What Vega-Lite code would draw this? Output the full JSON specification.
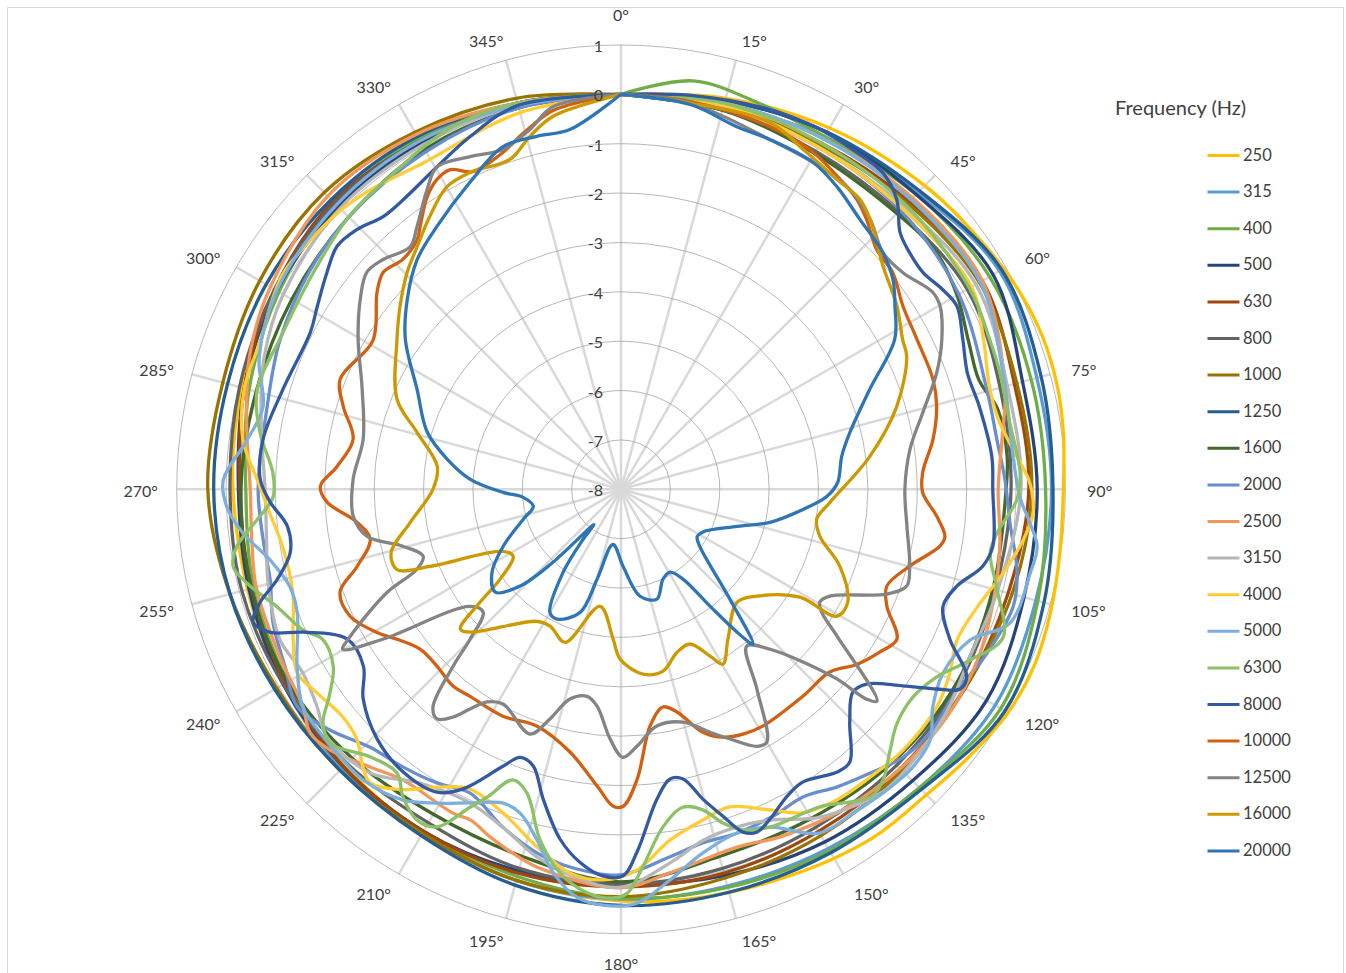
{
"$schema": "https://vega.github.io/schema/vega-lite/v6.json",
"width": 1336, "height": 973, "autosize": "none",
"padding": {"left": 7, "top": 7, "right": 3, "bottom": 0},
"background": "white",
"config": {"view": {"stroke": "#D9D9D9", "strokeWidth": 1}, "font": "Lato"},
"datasets": {
"rings": [{"ring":-8},{"ring":-7},{"ring":-6},{"ring":-5},{"ring":-4},{"ring":-3},{"ring":-2},{"ring":-1},{"ring":0},{"ring":1}],
"spokes": [{"deg":0,"lab":"0°"},{"deg":15,"lab":"15°"},{"deg":30,"lab":"30°"},{"deg":45,"lab":"45°"},{"deg":60,"lab":"60°"},{"deg":75,"lab":"75°"},{"deg":90,"lab":"90°"},{"deg":105,"lab":"105°"},{"deg":120,"lab":"120°"},{"deg":135,"lab":"135°"},{"deg":150,"lab":"150°"},{"deg":165,"lab":"165°"},{"deg":180,"lab":"180°"},{"deg":195,"lab":"195°"},{"deg":210,"lab":"210°"},{"deg":225,"lab":"225°"},{"deg":240,"lab":"240°"},{"deg":255,"lab":"255°"},{"deg":270,"lab":"270°"},{"deg":285,"lab":"285°"},{"deg":300,"lab":"300°"},{"deg":315,"lab":"315°"},{"deg":330,"lab":"330°"},{"deg":345,"lab":"345°"}],
"spokeLines": [{"deg":0,"r":0},{"deg":0,"r":9},{"deg":15,"r":0},{"deg":15,"r":9},{"deg":30,"r":0},{"deg":30,"r":9},{"deg":45,"r":0},{"deg":45,"r":9},{"deg":60,"r":0},{"deg":60,"r":9},{"deg":75,"r":0},{"deg":75,"r":9},{"deg":90,"r":0},{"deg":90,"r":9},{"deg":105,"r":0},{"deg":105,"r":9},{"deg":120,"r":0},{"deg":120,"r":9},{"deg":135,"r":0},{"deg":135,"r":9},{"deg":150,"r":0},{"deg":150,"r":9},{"deg":165,"r":0},{"deg":165,"r":9},{"deg":180,"r":0},{"deg":180,"r":9},{"deg":195,"r":0},{"deg":195,"r":9},{"deg":210,"r":0},{"deg":210,"r":9},{"deg":225,"r":0},{"deg":225,"r":9},{"deg":240,"r":0},{"deg":240,"r":9},{"deg":255,"r":0},{"deg":255,"r":9},{"deg":270,"r":0},{"deg":270,"r":9},{"deg":285,"r":0},{"deg":285,"r":9},{"deg":300,"r":0},{"deg":300,"r":9},{"deg":315,"r":0},{"deg":315,"r":9},{"deg":330,"r":0},{"deg":330,"r":9},{"deg":345,"r":0},{"deg":345,"r":9}],
"series": [
{"f":"250","a":0,"v":0},{"f":"250","a":15,"v":0.2},{"f":"250","a":30,"v":0.45},{"f":"250","a":45,"v":0.7},{"f":"250","a":55,"v":0.85},{"f":"250","a":63,"v":1.0},{"f":"250","a":70,"v":1.08},{"f":"250","a":77,"v":1.08},{"f":"250","a":83,"v":1.03},{"f":"250","a":90,"v":0.96},{"f":"250","a":98,"v":0.98},{"f":"250","a":106,"v":1.05},{"f":"250","a":113,"v":1.1},{"f":"250","a":120,"v":1.05},{"f":"250","a":128,"v":0.88},{"f":"250","a":135,"v":0.75},{"f":"250","a":145,"v":0.7},{"f":"250","a":160,"v":0.5},{"f":"250","a":175,"v":0.38},{"f":"250","a":190,"v":0.25},{"f":"250","a":205,"v":0.1},{"f":"250","a":220,"v":-0.05},{"f":"250","a":235,"v":-0.12},{"f":"250","a":250,"v":-0.15},{"f":"250","a":270,"v":-0.14},{"f":"250","a":285,"v":-0.05},{"f":"250","a":300,"v":0.05},{"f":"250","a":315,"v":0.1},{"f":"250","a":330,"v":0.1},{"f":"250","a":345,"v":0.05},{"f":"250","a":360,"v":0},
{"f":"315","a":0,"v":0},{"f":"315","a":15,"v":0.05},{"f":"315","a":30,"v":0.25},{"f":"315","a":45,"v":0.5},{"f":"315","a":60,"v":0.85},{"f":"315","a":75,"v":0.72},{"f":"315","a":90,"v":0.72},{"f":"315","a":105,"v":0.7},{"f":"315","a":120,"v":0.75},{"f":"315","a":135,"v":0.55},{"f":"315","a":150,"v":0.4},{"f":"315","a":165,"v":0.32},{"f":"315","a":180,"v":0.3},{"f":"315","a":195,"v":0.2},{"f":"315","a":210,"v":0.05},{"f":"315","a":225,"v":0},{"f":"315","a":240,"v":-0.1},{"f":"315","a":255,"v":-0.2},{"f":"315","a":270,"v":-0.3},{"f":"315","a":285,"v":-0.1},{"f":"315","a":300,"v":0.05},{"f":"315","a":315,"v":0.15},{"f":"315","a":330,"v":0.15},{"f":"315","a":345,"v":0.05},{"f":"315","a":360,"v":0},
{"f":"400","a":0,"v":0},{"f":"400","a":10,"v":0.4},{"f":"400","a":20,"v":0.3},{"f":"400","a":30,"v":0.25},{"f":"400","a":45,"v":0.45},{"f":"400","a":60,"v":0.62},{"f":"400","a":75,"v":0.6},{"f":"400","a":90,"v":0.6},{"f":"400","a":105,"v":0.74},{"f":"400","a":120,"v":0.88},{"f":"400","a":135,"v":0.55},{"f":"400","a":150,"v":0.45},{"f":"400","a":165,"v":0.35},{"f":"400","a":180,"v":0.28},{"f":"400","a":195,"v":0.12},{"f":"400","a":210,"v":0},{"f":"400","a":225,"v":-0.05},{"f":"400","a":240,"v":-0.2},{"f":"400","a":255,"v":-0.3},{"f":"400","a":270,"v":-0.4},{"f":"400","a":285,"v":-0.2},{"f":"400","a":300,"v":0},{"f":"400","a":315,"v":0.2},{"f":"400","a":330,"v":0.2},{"f":"400","a":345,"v":0.1},{"f":"400","a":360,"v":0},
{"f":"500","a":0,"v":0},{"f":"500","a":15,"v":0.15},{"f":"500","a":30,"v":0.35},{"f":"500","a":45,"v":0.45},{"f":"500","a":60,"v":0.7},{"f":"500","a":75,"v":0.42},{"f":"500","a":90,"v":0.43},{"f":"500","a":105,"v":0.45},{"f":"500","a":120,"v":0.55},{"f":"500","a":135,"v":0.35},{"f":"500","a":150,"v":0.25},{"f":"500","a":165,"v":0.1},{"f":"500","a":180,"v":0},{"f":"500","a":195,"v":0},{"f":"500","a":210,"v":0},{"f":"500","a":225,"v":-0.05},{"f":"500","a":240,"v":-0.1},{"f":"500","a":255,"v":-0.2},{"f":"500","a":270,"v":-0.25},{"f":"500","a":285,"v":-0.1},{"f":"500","a":300,"v":0.05},{"f":"500","a":315,"v":0.1},{"f":"500","a":330,"v":0.1},{"f":"500","a":345,"v":0.1},{"f":"500","a":360,"v":0},
{"f":"630","a":0,"v":0},{"f":"630","a":15,"v":0},{"f":"630","a":30,"v":0.1},{"f":"630","a":45,"v":0.25},{"f":"630","a":60,"v":0.45},{"f":"630","a":75,"v":0.25},{"f":"630","a":90,"v":0.26},{"f":"630","a":105,"v":0.12},{"f":"630","a":120,"v":0.05},{"f":"630","a":135,"v":0},{"f":"630","a":150,"v":0},{"f":"630","a":165,"v":0.05},{"f":"630","a":180,"v":0.05},{"f":"630","a":195,"v":0.05},{"f":"630","a":210,"v":0},{"f":"630","a":225,"v":-0.05},{"f":"630","a":240,"v":-0.15},{"f":"630","a":255,"v":-0.25},{"f":"630","a":270,"v":-0.28},{"f":"630","a":285,"v":-0.1},{"f":"630","a":300,"v":0.1},{"f":"630","a":315,"v":0.25},{"f":"630","a":330,"v":0.15},{"f":"630","a":345,"v":0.1},{"f":"630","a":360,"v":0},
{"f":"800","a":0,"v":0},{"f":"800","a":15,"v":-0.05},{"f":"800","a":30,"v":-0.1},{"f":"800","a":45,"v":-0.05},{"f":"800","a":60,"v":0.1},{"f":"800","a":75,"v":-0.05},{"f":"800","a":90,"v":-0.1},{"f":"800","a":105,"v":-0.15},{"f":"800","a":120,"v":-0.1},{"f":"800","a":135,"v":-0.1},{"f":"800","a":150,"v":-0.1},{"f":"800","a":165,"v":-0.05},{"f":"800","a":180,"v":0},{"f":"800","a":195,"v":-0.05},{"f":"800","a":210,"v":-0.2},{"f":"800","a":225,"v":-0.15},{"f":"800","a":240,"v":-0.1},{"f":"800","a":255,"v":-0.05},{"f":"800","a":270,"v":-0.08},{"f":"800","a":285,"v":0},{"f":"800","a":300,"v":0.1},{"f":"800","a":315,"v":0.2},{"f":"800","a":330,"v":0.15},{"f":"800","a":345,"v":0.05},{"f":"800","a":360,"v":0},
{"f":"1000","a":0,"v":0},{"f":"1000","a":15,"v":0},{"f":"1000","a":30,"v":0.05},{"f":"1000","a":45,"v":0.2},{"f":"1000","a":60,"v":0.38},{"f":"1000","a":75,"v":0.3},{"f":"1000","a":90,"v":0.32},{"f":"1000","a":105,"v":0.2},{"f":"1000","a":120,"v":0.05},{"f":"1000","a":135,"v":0.05},{"f":"1000","a":150,"v":0.1},{"f":"1000","a":165,"v":0.15},{"f":"1000","a":180,"v":0.25},{"f":"1000","a":195,"v":0.2},{"f":"1000","a":210,"v":0.05},{"f":"1000","a":225,"v":0.05},{"f":"1000","a":240,"v":0.05},{"f":"1000","a":255,"v":0.2},{"f":"1000","a":270,"v":0.37},{"f":"1000","a":285,"v":0.35},{"f":"1000","a":300,"v":0.45},{"f":"1000","a":315,"v":0.5},{"f":"1000","a":330,"v":0.35},{"f":"1000","a":345,"v":0.2},{"f":"1000","a":360,"v":0},
{"f":"1250","a":0,"v":0},{"f":"1250","a":15,"v":0.15},{"f":"1250","a":30,"v":0.35},{"f":"1250","a":45,"v":0.55},{"f":"1250","a":60,"v":0.9},{"f":"1250","a":75,"v":0.81},{"f":"1250","a":90,"v":0.75},{"f":"1250","a":105,"v":0.87},{"f":"1250","a":120,"v":0.98},{"f":"1250","a":135,"v":0.6},{"f":"1250","a":150,"v":0.5},{"f":"1250","a":165,"v":0.45},{"f":"1250","a":180,"v":0.43},{"f":"1250","a":195,"v":0.3},{"f":"1250","a":210,"v":0.1},{"f":"1250","a":225,"v":0.05},{"f":"1250","a":240,"v":0.1},{"f":"1250","a":255,"v":0.2},{"f":"1250","a":270,"v":0.25},{"f":"1250","a":285,"v":0.25},{"f":"1250","a":300,"v":0.3},{"f":"1250","a":315,"v":0.3},{"f":"1250","a":330,"v":0.25},{"f":"1250","a":345,"v":0.1},{"f":"1250","a":360,"v":0},
{"f":"1600","a":0,"v":0},{"f":"1600","a":15,"v":-0.05},{"f":"1600","a":30,"v":-0.15},{"f":"1600","a":45,"v":-0.1},{"f":"1600","a":53,"v":-0.01},{"f":"1600","a":60,"v":-0.14},{"f":"1600","a":67,"v":-0.35},{"f":"1600","a":73,"v":-0.42},{"f":"1600","a":78,"v":-0.2},{"f":"1600","a":85,"v":-0.15},{"f":"1600","a":90,"v":-0.2},{"f":"1600","a":105,"v":-0.2},{"f":"1600","a":120,"v":-0.15},{"f":"1600","a":135,"v":-0.2},{"f":"1600","a":150,"v":-0.3},{"f":"1600","a":165,"v":-0.3},{"f":"1600","a":180,"v":-0.05},{"f":"1600","a":195,"v":-0.3},{"f":"1600","a":210,"v":-0.4},{"f":"1600","a":225,"v":-0.3},{"f":"1600","a":240,"v":-0.2},{"f":"1600","a":255,"v":-0.25},{"f":"1600","a":270,"v":-0.3},{"f":"1600","a":285,"v":-0.35},{"f":"1600","a":300,"v":-0.3},{"f":"1600","a":315,"v":-0.2},{"f":"1600","a":330,"v":-0.05},{"f":"1600","a":345,"v":0},{"f":"1600","a":360,"v":0},
{"f":"2000","a":0,"v":0},{"f":"2000","a":15,"v":0},{"f":"2000","a":30,"v":0},{"f":"2000","a":45,"v":0},{"f":"2000","a":60,"v":-0.1},{"f":"2000","a":74.8,"v":-0.32},{"f":"2000","a":82.5,"v":-0.32},{"f":"2000","a":88.6,"v":-0.22},{"f":"2000","a":95,"v":-0.09},{"f":"2000","a":101.9,"v":0.2},{"f":"2000","a":106.7,"v":0.29},{"f":"2000","a":115,"v":0.1},{"f":"2000","a":120.8,"v":-0.07},{"f":"2000","a":128.3,"v":-0.03},{"f":"2000","a":133.5,"v":-0.12},{"f":"2000","a":138.7,"v":-0.35},{"f":"2000","a":144,"v":-0.55},{"f":"2000","a":149.4,"v":-0.76},{"f":"2000","a":155,"v":-0.7},{"f":"2000","a":161.3,"v":-0.65},{"f":"2000","a":167,"v":-0.65},{"f":"2000","a":172.4,"v":-0.49},{"f":"2000","a":180.1,"v":-0.19},{"f":"2000","a":187.7,"v":-0.28},{"f":"2000","a":193,"v":-0.44},{"f":"2000","a":199.3,"v":-0.75},{"f":"2000","a":206.4,"v":-1.13},{"f":"2000","a":212.1,"v":-0.98},{"f":"2000","a":218.1,"v":-0.85},{"f":"2000","a":224.2,"v":-0.71},{"f":"2000","a":230.4,"v":-0.35},{"f":"2000","a":236.1,"v":-0.1},{"f":"2000","a":242,"v":-0.3},{"f":"2000","a":249,"v":-0.45},{"f":"2000","a":255.5,"v":-0.66},{"f":"2000","a":261.9,"v":-0.68},{"f":"2000","a":270,"v":-0.65},{"f":"2000","a":283.1,"v":-0.64},{"f":"2000","a":293.6,"v":-0.46},{"f":"2000","a":305,"v":-0.3},{"f":"2000","a":315,"v":-0.2},{"f":"2000","a":330,"v":-0.1},{"f":"2000","a":345,"v":0},{"f":"2000","a":360,"v":0},
{"f":"2500","a":0,"v":0},{"f":"2500","a":15,"v":0.1},{"f":"2500","a":30,"v":0.2},{"f":"2500","a":45,"v":0.35},{"f":"2500","a":60,"v":0.45},{"f":"2500","a":75,"v":0.05},{"f":"2500","a":82,"v":-0.2},{"f":"2500","a":90,"v":-0.36},{"f":"2500","a":98,"v":-0.25},{"f":"2500","a":105,"v":-0.15},{"f":"2500","a":115,"v":0},{"f":"2500","a":125,"v":0.05},{"f":"2500","a":135,"v":0},{"f":"2500","a":145,"v":-0.1},{"f":"2500","a":155,"v":-0.25},{"f":"2500","a":162,"v":-0.38},{"f":"2500","a":172.7,"v":-0.17},{"f":"2500","a":180,"v":0.07},{"f":"2500","a":192.5,"v":-0.16},{"f":"2500","a":200,"v":-0.45},{"f":"2500","a":204.5,"v":-0.64},{"f":"2500","a":207.4,"v":-0.61},{"f":"2500","a":216.9,"v":-0.64},{"f":"2500","a":222.1,"v":-0.42},{"f":"2500","a":228.1,"v":-0.09},{"f":"2500","a":231.9,"v":0},{"f":"2500","a":235.7,"v":-0.2},{"f":"2500","a":243.8,"v":-0.3},{"f":"2500","a":255,"v":-0.35},{"f":"2500","a":262,"v":-0.45},{"f":"2500","a":270,"v":-0.49},{"f":"2500","a":280,"v":-0.3},{"f":"2500","a":290,"v":0},{"f":"2500","a":300,"v":0.2},{"f":"2500","a":315,"v":0.4},{"f":"2500","a":330,"v":0.3},{"f":"2500","a":345,"v":0.1},{"f":"2500","a":360,"v":0},
{"f":"3150","a":0,"v":0},{"f":"3150","a":15,"v":0},{"f":"3150","a":30,"v":0},{"f":"3150","a":45,"v":0.1},{"f":"3150","a":60,"v":0.3},{"f":"3150","a":75,"v":0.1},{"f":"3150","a":90,"v":0.1},{"f":"3150","a":105,"v":-0.1},{"f":"3150","a":115.7,"v":-0.16},{"f":"3150","a":125,"v":0},{"f":"3150","a":135.2,"v":0.1},{"f":"3150","a":139.2,"v":0.1},{"f":"3150","a":148.7,"v":-0.23},{"f":"3150","a":155.7,"v":-0.65},{"f":"3150","a":161,"v":-0.77},{"f":"3150","a":166.8,"v":-0.7},{"f":"3150","a":172,"v":-0.4},{"f":"3150","a":180,"v":0.06},{"f":"3150","a":187,"v":-0.1},{"f":"3150","a":192.9,"v":-0.36},{"f":"3150","a":199.3,"v":-0.75},{"f":"3150","a":206,"v":-0.95},{"f":"3150","a":214.4,"v":-0.79},{"f":"3150","a":221.5,"v":-0.33},{"f":"3150","a":229.9,"v":-0.21},{"f":"3150","a":234.4,"v":-0.43},{"f":"3150","a":240,"v":-0.56},{"f":"3150","a":246.2,"v":-0.45},{"f":"3150","a":255,"v":-0.6},{"f":"3150","a":262,"v":-0.75},{"f":"3150","a":270,"v":-0.79},{"f":"3150","a":280,"v":-0.6},{"f":"3150","a":290,"v":-0.3},{"f":"3150","a":300,"v":-0.1},{"f":"3150","a":315,"v":0.05},{"f":"3150","a":330,"v":0.05},{"f":"3150","a":345,"v":0.05},{"f":"3150","a":360,"v":0},
{"f":"4000","a":0,"v":0},{"f":"4000","a":15,"v":0.05},{"f":"4000","a":30,"v":0},{"f":"4000","a":45,"v":0.05},{"f":"4000","a":60,"v":0.2},{"f":"4000","a":67.4,"v":-0.05},{"f":"4000","a":74.9,"v":-0.26},{"f":"4000","a":80.1,"v":-0.21},{"f":"4000","a":85.3,"v":0.05},{"f":"4000","a":89.1,"v":0.28},{"f":"4000","a":93.3,"v":0.36},{"f":"4000","a":97.2,"v":0.21},{"f":"4000","a":102.4,"v":-0.08},{"f":"4000","a":108.3,"v":-0.4},{"f":"4000","a":114.2,"v":-0.54},{"f":"4000","a":119.2,"v":-0.37},{"f":"4000","a":124.6,"v":-0.23},{"f":"4000","a":132.8,"v":-0.22},{"f":"4000","a":139.1,"v":-0.29},{"f":"4000","a":145.2,"v":-0.34},{"f":"4000","a":150.6,"v":-0.48},{"f":"4000","a":155.1,"v":-0.84},{"f":"4000","a":161.1,"v":-1.2},{"f":"4000","a":166.1,"v":-1.1},{"f":"4000","a":172,"v":-0.83},{"f":"4000","a":177.6,"v":-0.28},{"f":"4000","a":182.6,"v":-0.08},{"f":"4000","a":187.6,"v":-0.16},{"f":"4000","a":193.2,"v":-0.56},{"f":"4000","a":200,"v":-1.02},{"f":"4000","a":206.9,"v":-1.2},{"f":"4000","a":211.7,"v":-0.91},{"f":"4000","a":216,"v":-0.48},{"f":"4000","a":220.5,"v":-0.18},{"f":"4000","a":222.9,"v":-0.32},{"f":"4000","a":226.5,"v":-0.63},{"f":"4000","a":230.7,"v":-0.72},{"f":"4000","a":236.2,"v":-0.59},{"f":"4000","a":240.4,"v":-0.46},{"f":"4000","a":245.3,"v":-0.69},{"f":"4000","a":252.5,"v":-1.03},{"f":"4000","a":260.3,"v":-1.05},{"f":"4000","a":266.1,"v":-0.87},{"f":"4000","a":271.5,"v":-0.63},{"f":"4000","a":277.4,"v":-0.28},{"f":"4000","a":285,"v":-0.1},{"f":"4000","a":292.9,"v":-0.1},{"f":"4000","a":297.4,"v":0.01},{"f":"4000","a":302.4,"v":0.12},{"f":"4000","a":307.3,"v":0.08},{"f":"4000","a":314.2,"v":0.02},{"f":"4000","a":320,"v":-0.09},{"f":"4000","a":328.7,"v":-0.27},{"f":"4000","a":345,"v":-0.1},{"f":"4000","a":360,"v":0},
{"f":"5000","a":0,"v":0},{"f":"5000","a":15,"v":0.1},{"f":"5000","a":30,"v":0.2},{"f":"5000","a":45,"v":0.3},{"f":"5000","a":60,"v":0.4},{"f":"5000","a":73,"v":0.09},{"f":"5000","a":85.3,"v":-0.03},{"f":"5000","a":91.1,"v":0.08},{"f":"5000","a":94.7,"v":0.31},{"f":"5000","a":97.9,"v":0.51},{"f":"5000","a":101.6,"v":0.46},{"f":"5000","a":109,"v":0.33},{"f":"5000","a":113.4,"v":-0.3},{"f":"5000","a":119.7,"v":-0.49},{"f":"5000","a":124.9,"v":-0.3},{"f":"5000","a":129,"v":0.06},{"f":"5000","a":133.6,"v":0.16},{"f":"5000","a":138.5,"v":0.13},{"f":"5000","a":144.4,"v":0.07},{"f":"5000","a":150,"v":0.04},{"f":"5000","a":156.2,"v":-0.52},{"f":"5000","a":161.3,"v":-0.65},{"f":"5000","a":167.3,"v":-0.45},{"f":"5000","a":172.9,"v":-0.02},{"f":"5000","a":177.8,"v":0.39},{"f":"5000","a":182.5,"v":0.43},{"f":"5000","a":186.2,"v":0.31},{"f":"5000","a":190,"v":-0.11},{"f":"5000","a":193.5,"v":-0.7},{"f":"5000","a":197.3,"v":-1.13},{"f":"5000","a":200.6,"v":-1.21},{"f":"5000","a":205.7,"v":-0.95},{"f":"5000","a":210.4,"v":-0.63},{"f":"5000","a":215.1,"v":-0.31},{"f":"5000","a":221.6,"v":-0.13},{"f":"5000","a":225.8,"v":-0.14},{"f":"5000","a":231,"v":-0.16},{"f":"5000","a":235.6,"v":-0.19},{"f":"5000","a":241.3,"v":-0.52},{"f":"5000","a":249.1,"v":-0.98},{"f":"5000","a":253.6,"v":-1.01},{"f":"5000","a":258.6,"v":-0.75},{"f":"5000","a":263.4,"v":-0.29},{"f":"5000","a":267.4,"v":-0.01},{"f":"5000","a":271.3,"v":0.06},{"f":"5000","a":277.5,"v":-0.36},{"f":"5000","a":282.9,"v":-0.56},{"f":"5000","a":290,"v":-0.2},{"f":"5000","a":300,"v":0.05},{"f":"5000","a":315,"v":0.15},{"f":"5000","a":330,"v":0.15},{"f":"5000","a":345,"v":0.05},{"f":"5000","a":360,"v":0},
{"f":"6300","a":0,"v":0},{"f":"6300","a":15,"v":0.1},{"f":"6300","a":30,"v":0.1},{"f":"6300","a":45,"v":0.15},{"f":"6300","a":60,"v":0.15},{"f":"6300","a":68,"v":0.06},{"f":"6300","a":72.9,"v":0.03},{"f":"6300","a":80.3,"v":-0.01},{"f":"6300","a":87.7,"v":0.09},{"f":"6300","a":91.5,"v":0.02},{"f":"6300","a":96.6,"v":-0.33},{"f":"6300","a":99.8,"v":-0.41},{"f":"6300","a":105,"v":-0.11},{"f":"6300","a":111.2,"v":0.3},{"f":"6300","a":116.1,"v":-0.13},{"f":"6300","a":120.7,"v":-0.56},{"f":"6300","a":125.4,"v":-0.74},{"f":"6300","a":130.3,"v":-0.67},{"f":"6300","a":134.1,"v":-0.41},{"f":"6300","a":138,"v":-0.07},{"f":"6300","a":141,"v":0.02},{"f":"6300","a":147.9,"v":-0.41},{"f":"6300","a":156.2,"v":-0.52},{"f":"6300","a":160.3,"v":-0.67},{"f":"6300","a":163,"v":-0.93},{"f":"6300","a":165.7,"v":-1.3},{"f":"6300","a":169,"v":-1.44},{"f":"6300","a":172.9,"v":-1.11},{"f":"6300","a":176.7,"v":-0.34},{"f":"6300","a":179.1,"v":0.18},{"f":"6300","a":181.1,"v":0.28},{"f":"6300","a":184.8,"v":0.2},{"f":"6300","a":189,"v":-0.13},{"f":"6300","a":193,"v":-0.71},{"f":"6300","a":197.2,"v":-1.56},{"f":"6300","a":200.4,"v":-1.72},{"f":"6300","a":203.5,"v":-1.2},{"f":"6300","a":205.4,"v":-0.87},{"f":"6300","a":208.6,"v":-0.21},{"f":"6300","a":211.7,"v":-0.13},{"f":"6300","a":215.3,"v":-0.36},{"f":"6300","a":218.3,"v":-0.68},{"f":"6300","a":223.2,"v":-0.57},{"f":"6300","a":228.9,"v":-0.18},{"f":"6300","a":231.9,"v":-0.33},{"f":"6300","a":234.7,"v":-0.76},{"f":"6300","a":238.3,"v":-1.15},{"f":"6300","a":243.2,"v":-1.24},{"f":"6300","a":246.1,"v":-0.96},{"f":"6300","a":251.1,"v":-0.64},{"f":"6300","a":255.9,"v":-0.19},{"f":"6300","a":258.7,"v":0.01},{"f":"6300","a":261.5,"v":-0.13},{"f":"6300","a":265.2,"v":-0.6},{"f":"6300","a":268.7,"v":-0.95},{"f":"6300","a":272.7,"v":-0.94},{"f":"6300","a":278.9,"v":-0.6},{"f":"6300","a":285.3,"v":-0.36},{"f":"6300","a":294,"v":-0.45},{"f":"6300","a":305,"v":-0.38},{"f":"6300","a":315,"v":-0.2},{"f":"6300","a":325,"v":-0.1},{"f":"6300","a":335,"v":0.1},{"f":"6300","a":345,"v":0.1},{"f":"6300","a":360,"v":0},
{"f":"8000","a":0,"v":0},{"f":"8000","a":10,"v":0.1},{"f":"8000","a":21.4,"v":0.26},{"f":"8000","a":28.9,"v":0.33},{"f":"8000","a":34.3,"v":0.33},{"f":"8000","a":39.6,"v":0.32},{"f":"8000","a":43.6,"v":0.1},{"f":"8000","a":47.4,"v":-0.32},{"f":"8000","a":50.6,"v":-0.44},{"f":"8000","a":54.3,"v":-0.47},{"f":"8000","a":58.2,"v":-0.33},{"f":"8000","a":61.4,"v":-0.25},{"f":"8000","a":66.3,"v":-0.44},{"f":"8000","a":71.5,"v":-0.6},{"f":"8000","a":77.1,"v":-0.55},{"f":"8000","a":84.9,"v":-0.46},{"f":"8000","a":90,"v":-0.47},{"f":"8000","a":98.7,"v":-0.38},{"f":"8000","a":102,"v":-0.51},{"f":"8000","a":106.1,"v":-0.92},{"f":"8000","a":110,"v":-1.06},{"f":"8000","a":114.5,"v":-0.68},{"f":"8000","a":118.4,"v":-0.04},{"f":"8000","a":120.5,"v":-0.03},{"f":"8000","a":122.3,"v":-0.43},{"f":"8000","a":124.9,"v":-1.04},{"f":"8000","a":128.4,"v":-1.65},{"f":"8000","a":131.2,"v":-1.76},{"f":"8000","a":135.5,"v":-1.39},{"f":"8000","a":140,"v":-0.79},{"f":"8000","a":142.6,"v":-0.79},{"f":"8000","a":148.2,"v":-1.02},{"f":"8000","a":151.6,"v":-0.93},{"f":"8000","a":155.7,"v":-0.67},{"f":"8000","a":158.4,"v":-0.53},{"f":"8000","a":160.4,"v":-0.63},{"f":"8000","a":162.7,"v":-1.07},{"f":"8000","a":165.2,"v":-1.51},{"f":"8000","a":167.9,"v":-2},{"f":"8000","a":170.4,"v":-2.05},{"f":"8000","a":173.4,"v":-1.68},{"f":"8000","a":177.5,"v":-0.64},{"f":"8000","a":179.7,"v":-0.17},{"f":"8000","a":182.7,"v":-0.16},{"f":"8000","a":186.3,"v":-0.4},{"f":"8000","a":189.9,"v":-0.81},{"f":"8000","a":194.1,"v":-1.53},{"f":"8000","a":197.6,"v":-2.12},{"f":"8000","a":200.6,"v":-2.2},{"f":"8000","a":203.1,"v":-1.9},{"f":"8000","a":207.8,"v":-1.14},{"f":"8000","a":211.3,"v":-0.82},{"f":"8000","a":217.6,"v":-0.77},{"f":"8000","a":224.3,"v":-0.93},{"f":"8000","a":230.9,"v":-1.27},{"f":"8000","a":235.5,"v":-1.67},{"f":"8000","a":241.3,"v":-1.68},{"f":"8000","a":245.8,"v":-0.94},{"f":"8000","a":247.8,"v":-0.33},{"f":"8000","a":250.1,"v":-0.08},{"f":"8000","a":252.6,"v":-0.34},{"f":"8000","a":255.3,"v":-0.8},{"f":"8000","a":259.2,"v":-1.18},{"f":"8000","a":263.7,"v":-1.2},{"f":"8000","a":267.9,"v":-0.89},{"f":"8000","a":271.6,"v":-0.69},{"f":"8000","a":278,"v":-0.68},{"f":"8000","a":286.5,"v":-0.86},{"f":"8000","a":296.8,"v":-0.95},{"f":"8000","a":301,"v":-0.82},{"f":"8000","a":306.4,"v":-0.6},{"f":"8000","a":310.6,"v":-0.43},{"f":"8000","a":314.6,"v":-0.5},{"f":"8000","a":318.9,"v":-0.67},{"f":"8000","a":323.1,"v":-0.66},{"f":"8000","a":330.3,"v":-0.48},{"f":"8000","a":336.8,"v":-0.23},{"f":"8000","a":345,"v":0.05},{"f":"8000","a":360,"v":0},
{"f":"10000","a":0,"v":0},{"f":"10000","a":10,"v":-0.02},{"f":"10000","a":22.3,"v":-0.06},{"f":"10000","a":29.1,"v":-0.13},{"f":"10000","a":34.9,"v":-0.3},{"f":"10000","a":39.1,"v":-0.43},{"f":"10000","a":42.3,"v":-0.61},{"f":"10000","a":46.8,"v":-0.9},{"f":"10000","a":51.4,"v":-0.96},{"f":"10000","a":57,"v":-1.19},{"f":"10000","a":63.1,"v":-1.28},{"f":"10000","a":70.6,"v":-1.3},{"f":"10000","a":75.3,"v":-1.39},{"f":"10000","a":80.9,"v":-1.6},{"f":"10000","a":86.8,"v":-1.88},{"f":"10000","a":90.6,"v":-1.89},{"f":"10000","a":94.9,"v":-1.58},{"f":"10000","a":98.3,"v":-1.37},{"f":"10000","a":100.1,"v":-1.44},{"f":"10000","a":104.9,"v":-1.95},{"f":"10000","a":110,"v":-2.27},{"f":"10000","a":113.7,"v":-2.12},{"f":"10000","a":118.5,"v":-1.64},{"f":"10000","a":122.2,"v":-1.81},{"f":"10000","a":126.6,"v":-2.05},{"f":"10000","a":131.2,"v":-2.38},{"f":"10000","a":138.7,"v":-2.42},{"f":"10000","a":149.1,"v":-2.41},{"f":"10000","a":153.5,"v":-2.46},{"f":"10000","a":157.6,"v":-2.57},{"f":"10000","a":161.4,"v":-2.81},{"f":"10000","a":165.9,"v":-3.35},{"f":"10000","a":169.1,"v":-3.51},{"f":"10000","a":173,"v":-3.17},{"f":"10000","a":176.8,"v":-2.12},{"f":"10000","a":179.6,"v":-1.58},{"f":"10000","a":181.4,"v":-1.58},{"f":"10000","a":184.6,"v":-1.97},{"f":"10000","a":191,"v":-2.58},{"f":"10000","a":199.5,"v":-2.91},{"f":"10000","a":207.5,"v":-2.82},{"f":"10000","a":216.1,"v":-2.81},{"f":"10000","a":220.5,"v":-2.76},{"f":"10000","a":226.1,"v":-2.83},{"f":"10000","a":231.5,"v":-2.8},{"f":"10000","a":236.2,"v":-2.54},{"f":"10000","a":239.6,"v":-2.27},{"f":"10000","a":244.9,"v":-1.94},{"f":"10000","a":249.9,"v":-1.94},{"f":"10000","a":253.7,"v":-2.43},{"f":"10000","a":258.7,"v":-2.82},{"f":"10000","a":262.9,"v":-2.61},{"f":"10000","a":267.5,"v":-2.04},{"f":"10000","a":270.6,"v":-1.91},{"f":"10000","a":274.6,"v":-2.23},{"f":"10000","a":280.6,"v":-2.48},{"f":"10000","a":286.6,"v":-2.13},{"f":"10000","a":291.4,"v":-1.89},{"f":"10000","a":301,"v":-2.14},{"f":"10000","a":308.9,"v":-1.65},{"f":"10000","a":312.4,"v":-1.48},{"f":"10000","a":316.5,"v":-1.58},{"f":"10000","a":320.8,"v":-1.47},{"f":"10000","a":322.6,"v":-1.3},{"f":"10000","a":326.5,"v":-0.89},{"f":"10000","a":329.3,"v":-0.7},{"f":"10000","a":331.9,"v":-0.66},{"f":"10000","a":335,"v":-0.9},{"f":"10000","a":340,"v":-0.8},{"f":"10000","a":345,"v":-0.5},{"f":"10000","a":350,"v":-0.2},{"f":"10000","a":360,"v":0},
{"f":"12500","a":0,"v":0},{"f":"12500","a":10,"v":-0.05},{"f":"12500","a":23.1,"v":-0.3},{"f":"12500","a":31.6,"v":-0.32},{"f":"12500","a":37.4,"v":-0.36},{"f":"12500","a":42.7,"v":-0.56},{"f":"12500","a":47.9,"v":-0.85},{"f":"12500","a":52.4,"v":-0.8},{"f":"12500","a":57.7,"v":-0.53},{"f":"12500","a":60.2,"v":-0.55},{"f":"12500","a":65,"v":-0.83},{"f":"12500","a":69.7,"v":-1.18},{"f":"12500","a":75.7,"v":-1.69},{"f":"12500","a":82.1,"v":-2.09},{"f":"12500","a":90,"v":-2.25},{"f":"12500","a":97.4,"v":-2.16},{"f":"12500","a":104.9,"v":-1.95},{"f":"12500","a":108.7,"v":-1.89},{"f":"12500","a":111.5,"v":-2.21},{"f":"12500","a":117.1,"v":-3.25},{"f":"12500","a":119.6,"v":-3.37},{"f":"12500","a":121.5,"v":-3.23},{"f":"12500","a":124.2,"v":-2.71},{"f":"12500","a":129.6,"v":-1.27},{"f":"12500","a":130.5,"v":-1.45},{"f":"12500","a":131.3,"v":-2.18},{"f":"12500","a":133.5,"v":-2.92},{"f":"12500","a":137,"v":-3.57},{"f":"12500","a":141.3,"v":-3.93},{"f":"12500","a":145.8,"v":-3.1},{"f":"12500","a":150,"v":-2.09},{"f":"12500","a":152.1,"v":-2.11},{"f":"12500","a":156.4,"v":-2.48},{"f":"12500","a":159.9,"v":-2.76},{"f":"12500","a":165.1,"v":-3.12},{"f":"12500","a":171.4,"v":-3.15},{"f":"12500","a":176.4,"v":-2.79},{"f":"12500","a":179.6,"v":-2.57},{"f":"12500","a":182.5,"v":-2.94},{"f":"12500","a":186.3,"v":-3.58},{"f":"12500","a":189.3,"v":-3.75},{"f":"12500","a":193.7,"v":-3.63},{"f":"12500","a":197.2,"v":-3.13},{"f":"12500","a":200.4,"v":-2.71},{"f":"12500","a":208.8,"v":-3.04},{"f":"12500","a":212.2,"v":-2.91},{"f":"12500","a":214.5,"v":-2.6},{"f":"12500","a":216.4,"v":-2.27},{"f":"12500","a":218.7,"v":-2.04},{"f":"12500","a":220.8,"v":-2.17},{"f":"12500","a":223.5,"v":-3.06},{"f":"12500","a":225.2,"v":-3.69},{"f":"12500","a":228.3,"v":-4.26},{"f":"12500","a":232.2,"v":-4.13},{"f":"12500","a":237.8,"v":-2.31},{"f":"12500","a":240.1,"v":-1.5},{"f":"12500","a":241.5,"v":-1.76},{"f":"12500","a":246.2,"v":-2.82},{"f":"12500","a":248.6,"v":-3.56},{"f":"12500","a":251.3,"v":-3.77},{"f":"12500","a":255.3,"v":-3.44},{"f":"12500","a":259.5,"v":-2.77},{"f":"12500","a":264.2,"v":-2.55},{"f":"12500","a":272.1,"v":-2.57},{"f":"12500","a":281,"v":-2.68},{"f":"12500","a":291.1,"v":-2.38},{"f":"12500","a":299.7,"v":-1.87},{"f":"12500","a":306,"v":-1.47},{"f":"12500","a":310.5,"v":-1.23},{"f":"12500","a":314,"v":-1.3},{"f":"12500","a":319,"v":-1.49},{"f":"12500","a":322.2,"v":-1.26},{"f":"12500","a":327.1,"v":-0.77},{"f":"12500","a":330.3,"v":-0.48},{"f":"12500","a":335.6,"v":-0.6},{"f":"12500","a":340.9,"v":-0.71},{"f":"12500","a":345.8,"v":-0.48},{"f":"12500","a":349.9,"v":-0.13},{"f":"12500","a":360,"v":0},
{"f":"16000","a":0,"v":0},{"f":"16000","a":10,"v":-0.05},{"f":"16000","a":22.1,"v":0.02},{"f":"16000","a":28.2,"v":-0.19},{"f":"16000","a":34.9,"v":-0.35},{"f":"16000","a":39.5,"v":-0.39},{"f":"16000","a":42.7,"v":-0.56},{"f":"16000","a":49.6,"v":-1.03},{"f":"16000","a":56.4,"v":-1.29},{"f":"16000","a":62,"v":-1.54},{"f":"16000","a":65.1,"v":-1.62},{"f":"16000","a":73.3,"v":-2.17},{"f":"16000","a":82.5,"v":-2.92},{"f":"16000","a":93.6,"v":-3.76},{"f":"16000","a":98.7,"v":-3.99},{"f":"16000","a":103.3,"v":-3.86},{"f":"16000","a":109.4,"v":-3.3},{"f":"16000","a":116.5,"v":-2.87},{"f":"16000","a":120.5,"v":-2.93},{"f":"16000","a":121.1,"v":-3.77},{"f":"16000","a":128.2,"v":-4.5},{"f":"16000","a":134.3,"v":-4.72},{"f":"16000","a":144.5,"v":-4.27},{"f":"16000","a":149.8,"v":-3.9},{"f":"16000","a":151.9,"v":-4.17},{"f":"16000","a":156,"v":-4.57},{"f":"16000","a":161,"v":-4.51},{"f":"16000","a":167,"v":-4.22},{"f":"16000","a":173.2,"v":-4.23},{"f":"16000","a":180.3,"v":-4.56},{"f":"16000","a":183,"v":-4.96},{"f":"16000","a":190.2,"v":-5.59},{"f":"16000","a":200.1,"v":-4.7},{"f":"16000","a":207.4,"v":-4.88},{"f":"16000","a":212.5,"v":-4.83},{"f":"16000","a":226.6,"v":-3.79},{"f":"16000","a":229,"v":-3.69},{"f":"16000","a":231.3,"v":-4.34},{"f":"16000","a":233.4,"v":-4.95},{"f":"16000","a":238.2,"v":-5.43},{"f":"16000","a":242.3,"v":-5.3},{"f":"16000","a":248,"v":-3.83},{"f":"16000","a":250.3,"v":-3.18},{"f":"16000","a":254.6,"v":-3.17},{"f":"16000","a":261.1,"v":-3.68},{"f":"16000","a":270,"v":-4.19},{"f":"16000","a":277.1,"v":-4.25},{"f":"16000","a":285.6,"v":-3.71},{"f":"16000","a":291.9,"v":-3.11},{"f":"16000","a":303.8,"v":-2.54},{"f":"16000","a":309.6,"v":-2.19},{"f":"16000","a":315.4,"v":-1.83},{"f":"16000","a":320,"v":-1.58},{"f":"16000","a":325,"v":-1.25},{"f":"16000","a":330.1,"v":-0.93},{"f":"16000","a":334.5,"v":-0.89},{"f":"16000","a":341.4,"v":-0.95},{"f":"16000","a":345.5,"v":-0.62},{"f":"16000","a":349.7,"v":-0.32},{"f":"16000","a":360,"v":0},
{"f":"20000","a":0,"v":0},{"f":"20000","a":10.2,"v":-0.08},{"f":"20000","a":17.7,"v":-0.29},{"f":"20000","a":23.1,"v":-0.3},{"f":"20000","a":30.4,"v":-0.32},{"f":"20000","a":35.5,"v":-0.47},{"f":"20000","a":41.5,"v":-0.7},{"f":"20000","a":47.9,"v":-0.85},{"f":"20000","a":52.3,"v":-1.04},{"f":"20000","a":56.3,"v":-1.33},{"f":"20000","a":61.3,"v":-1.68},{"f":"20000","a":68.1,"v":-2.57},{"f":"20000","a":76,"v":-3.22},{"f":"20000","a":81.5,"v":-3.48},{"f":"20000","a":88.2,"v":-3.61},{"f":"20000","a":92,"v":-3.83},{"f":"20000","a":96.3,"v":-4.29},{"f":"20000","a":102.5,"v":-4.91},{"f":"20000","a":107.7,"v":-5.53},{"f":"20000","a":117.5,"v":-6.13},{"f":"20000","a":122.1,"v":-6.18},{"f":"20000","a":126.1,"v":-6.02},{"f":"20000","a":135.3,"v":-4.86},{"f":"20000","a":139.6,"v":-3.88},{"f":"20000","a":140.9,"v":-4.27},{"f":"20000","a":142.7,"v":-5.02},{"f":"20000","a":145.4,"v":-5.79},{"f":"20000","a":149.4,"v":-6.05},{"f":"20000","a":155,"v":-5.99},{"f":"20000","a":161.9,"v":-5.66},{"f":"20000","a":169.9,"v":-5.8},{"f":"20000","a":178.5,"v":-6.44},{"f":"20000","a":188.3,"v":-6.87},{"f":"20000","a":194.9,"v":-6.12},{"f":"20000","a":198.4,"v":-5.37},{"f":"20000","a":206.2,"v":-5.07},{"f":"20000","a":210,"v":-5.12},{"f":"20000","a":214.9,"v":-5.95},{"f":"20000","a":217.2,"v":-6.73},{"f":"20000","a":217.6,"v":-7.1},{"f":"20000","a":223,"v":-5.98},{"f":"20000","a":226.2,"v":-5.17},{"f":"20000","a":230.7,"v":-4.71},{"f":"20000","a":237.2,"v":-4.89},{"f":"20000","a":244.2,"v":-5.35},{"f":"20000","a":253,"v":-5.93},{"f":"20000","a":259,"v":-6.19},{"f":"20000","a":265.3,"v":-6.01},{"f":"20000","a":268.5,"v":-5.61},{"f":"20000","a":273.8,"v":-4.94},{"f":"20000","a":279.8,"v":-4.43},{"f":"20000","a":286.4,"v":-3.91},{"f":"20000","a":296.1,"v":-3.4},{"f":"20000","a":304.8,"v":-2.68},{"f":"20000","a":311.6,"v":-2.21},{"f":"20000","a":318.4,"v":-1.78},{"f":"20000","a":325,"v":-1.5},{"f":"20000","a":333.8,"v":-1.07},{"f":"20000","a":341,"v":-0.66},{"f":"20000","a":346.6,"v":-0.65},{"f":"20000","a":351.9,"v":-0.64},{"f":"20000","a":360,"v":0}
]
},
"layer": [
{"data": {"name": "spokeLines"},
 "transform": [
  {"calculate": "datum.r*sin(datum.deg*PI/180)", "as": "sx"},
  {"calculate": "datum.r*cos(datum.deg*PI/180)", "as": "sy"}
 ],
 "mark": {"type": "line", "color": "#D9D9D9", "strokeWidth": 2.5},
 "encoding": {
  "x": {"field": "sx", "type": "quantitative", "scale": {"domain": [-12.437, 14.624], "nice": false, "zero": false}, "axis": null},
  "y": {"field": "sy", "type": "quantitative", "scale": {"domain": [-9.939, 9.769], "nice": false, "zero": false}, "axis": null},
  "detail": {"field": "deg", "type": "nominal"},
  "order": {"field": "r", "type": "quantitative"}}},
{"data": {"name": "rings"},
 "transform": [{"filter": "datum.ring > -8"}, {"calculate": "datum.ring + 8", "as": "rr"}],
 "mark": {"type": "point", "shape": "circle", "filled": false, "color": "#A6A6A6", "strokeWidth": 0.8, "opacity": 1},
 "encoding": {
  "x": {"datum": 0, "type": "quantitative"},
  "y": {"datum": 0, "type": "quantitative"},
  "size": {"field": "rr", "type": "quantitative", "scale": {"type": "pow", "exponent": 2, "domain": [0, 9], "range": [0, 789717]}, "legend": null}}},
{"data": {"name": "series"},
 "transform": [{"calculate": "(datum.v+8)*sin(datum.a*PI/180)", "as": "px"}, {"calculate": "(datum.v+8)*cos(datum.a*PI/180)", "as": "py"}],
 "mark": {"type": "line", "interpolate": "catmull-rom", "strokeWidth": 3.3},
 "encoding": {
  "x": {"field": "px", "type": "quantitative"},
  "y": {"field": "py", "type": "quantitative"},
  "order": {"field": "a", "type": "quantitative"},
  "color": {"field": "f", "type": "nominal",
   "scale": {"domain": ["250","315","400","500","630","800","1000","1250","1600","2000","2500","3150","4000","5000","6300","8000","10000","12500","16000","20000"],
             "range": ["#FFC000","#5B9BD5","#70AD47","#264478","#9E480E","#636363","#997300","#255E91","#43682B","#698ED0","#F1975A","#B7B7B7","#FFCD33","#7CAFDD","#8CC168","#335AA1","#D26012","#848484","#CC9A00","#2E75B6"]},
   "legend": {"title": "Frequency (Hz)", "orient": "none", "legendX": 1108, "legendY": 92,
    "symbolType": "stroke", "symbolSize": 1024, "symbolStrokeWidth": 3,
    "labelFont": "Lato", "labelFontSize": 16.5, "labelColor": "#404040",
    "titleFont": "Lato", "titleFontSize": 20, "titleFontWeight": "normal", "titleColor": "#404040",
    "titlePadding": 19, "rowPadding": 10.6, "symbolOffset": 91, "labelOffset": 2, "titleLimit": 400, "labelLimit": 200}}}},
{"data": {"name": "spokes"},
 "transform": [{"filter": "datum.deg > 0 && datum.deg < 180"}, {"calculate": "9.44*sin(datum.deg*PI/180)", "as": "lx"}, {"calculate": "9.44*cos(datum.deg*PI/180)", "as": "ly"}],
 "mark": {"type": "text", "font": "Lato", "fontSize": 16, "color": "#404040", "align": "left", "baseline": "middle", "dy": 2.5},
 "encoding": {"x": {"field": "lx", "type": "quantitative"}, "y": {"field": "ly", "type": "quantitative"}, "text": {"field": "lab"}}},
{"data": {"name": "spokes"},
 "transform": [{"filter": "datum.deg > 180"}, {"calculate": "9.44*sin(datum.deg*PI/180)", "as": "lx"}, {"calculate": "9.44*cos(datum.deg*PI/180)", "as": "ly"}],
 "mark": {"type": "text", "font": "Lato", "fontSize": 16, "color": "#404040", "align": "right", "baseline": "middle", "dx": 3, "dy": 2.5},
 "encoding": {"x": {"field": "lx", "type": "quantitative"}, "y": {"field": "ly", "type": "quantitative"}, "text": {"field": "lab"}}},
{"data": {"name": "spokes"},
 "transform": [{"filter": "datum.deg == 0"}, {"calculate": "9.44*sin(datum.deg*PI/180)", "as": "lx"}, {"calculate": "9.44*cos(datum.deg*PI/180)", "as": "ly"}],
 "mark": {"type": "text", "font": "Lato", "fontSize": 16, "color": "#404040", "align": "center", "baseline": "bottom", "dy": 1},
 "encoding": {"x": {"field": "lx", "type": "quantitative"}, "y": {"field": "ly", "type": "quantitative"}, "text": {"field": "lab"}}},
{"data": {"name": "spokes"},
 "transform": [{"filter": "datum.deg == 180"}, {"calculate": "9.44*sin(datum.deg*PI/180)", "as": "lx"}, {"calculate": "9.44*cos(datum.deg*PI/180)", "as": "ly"}],
 "mark": {"type": "text", "font": "Lato", "fontSize": 16, "color": "#404040", "align": "center", "baseline": "top", "dy": 2},
 "encoding": {"x": {"field": "lx", "type": "quantitative"}, "y": {"field": "ly", "type": "quantitative"}, "text": {"field": "lab"}}},
{"data": {"name": "rings"},
 "transform": [{"calculate": "datum.ring + 8", "as": "rr"}],
 "mark": {"type": "text", "font": "Lato", "fontSize": 16, "color": "#404040", "align": "right", "baseline": "middle", "dx": -18, "dy": 2},
 "encoding": {"x": {"datum": 0, "type": "quantitative"}, "y": {"field": "rr", "type": "quantitative"}, "text": {"field": "ring"}}}
]
}
